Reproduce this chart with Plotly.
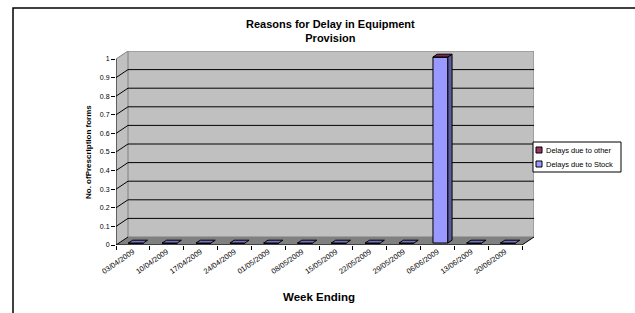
import plotly.graph_objects as go

# ---------------- data ----------------
weeks = ["03/04/2009", "10/04/2009", "17/04/2009", "24/04/2009", "01/05/2009",
         "08/05/2009", "15/05/2009", "22/05/2009", "29/05/2009", "06/06/2009",
         "13/06/2009", "20/06/2009"]
series_names = ["Delays due to other", "Delays due to Stock"]
delays_other = [0, 0, 0, 0, 0, 0, 0, 0, 0, 0, 0, 0]
delays_stock = [0, 0, 0, 0, 0, 0, 0, 0, 0, 1, 0, 0]
y_ticks = [0, 0.1, 0.2, 0.3, 0.4, 0.5, 0.6, 0.7, 0.8, 0.9, 1]
y_tick_labels = ["0", "0.1", "0.2", "0.3", "0.4", "0.5", "0.6", "0.7", "0.8", "0.9", "1"]

# ---------------- layout constants (pixels) ----------------
W, H = 635, 313
L, R = 116, 522      # front plane left/right
B, T = 245, 59       # front plane y of value 0 / value Y_MAX
Y_MAX = 1.0
DXP, DYP = 12, 8     # 3D depth offset
F0, F1 = 0.25, 0.6   # bar depth position (fraction of depth)
BW = 0.44            # bar width in category units
FONT = "Liberation Sans, Arial, sans-serif"

C_WALL = "#C0C0C0"
C_FLOOR = "#808080"
C_STOCK = "#9999FF"
C_STOCK_SIDE = "#5C5C99"
C_STOCK_TOP = "#7474C4"
C_OTHER = "#993366"
C_OTHER_TOP = "#7A2952"

n = len(weeks)
px_cat = (R - L) / n
px_val = (B - T) / Y_MAX
DX = DXP / px_cat
DY = DYP / px_val
x_lo, x_hi = -0.5, n - 0.5
plot_right = R + DXP
plot_top = T - DYP


def pxx(px):
    return (px - L) / (plot_right - L)


def pxy(py):
    return (B - py) / (B - plot_top)


def poly(pts):
    return "M " + " L ".join(f"{x},{y}" for x, y in pts) + " Z"


shapes = []
# left wall
shapes.append(dict(type="path", xref="x", yref="y", layer="below",
                   path=poly([(x_lo, 0), (x_lo, Y_MAX), (x_lo + DX, Y_MAX + DY), (x_lo + DX, DY)]),
                   fillcolor=C_WALL, line=dict(width=0)))
# back wall
shapes.append(dict(type="rect", xref="x", yref="y", layer="below",
                   x0=x_lo + DX, x1=x_hi + DX, y0=DY, y1=Y_MAX + DY,
                   fillcolor=C_WALL, line=dict(color="#808080", width=1)))
# floor
shapes.append(dict(type="path", xref="x", yref="y", layer="below",
                   path=poly([(x_lo, 0), (x_hi, 0), (x_hi + DX, DY), (x_lo + DX, DY)]),
                   fillcolor=C_FLOOR, line=dict(width=0)))
# gridlines on back wall and diagonals on the left wall
for v in y_ticks:
    if 0 < v < Y_MAX:
        shapes.append(dict(type="line", xref="x", yref="y", layer="below",
                           x0=x_lo + DX, x1=x_hi + DX, y0=v + DY, y1=v + DY,
                           line=dict(color="black", width=1)))
    shapes.append(dict(type="line", xref="x", yref="y", layer="below",
                       x0=x_lo, x1=x_lo + DX, y0=v, y1=v + DY,
                       line=dict(color="black" if v < Y_MAX else "#808080", width=1)))
# front axis lines
shapes.append(dict(type="line", xref="x", yref="y", layer="below",
                   x0=x_lo, x1=x_lo, y0=0, y1=Y_MAX, line=dict(color="black", width=1)))
shapes.append(dict(type="line", xref="x", yref="y", layer="below",
                   x0=x_lo, x1=x_hi, y0=0, y1=0, line=dict(color="black", width=1)))
shapes.append(dict(type="line", xref="x", yref="y", layer="below",
                   x0=x_hi, x1=x_hi + DX, y0=0, y1=DY, line=dict(color="black", width=1)))

# 3D faces of the bars
dd_x = (F1 - F0) * DX
dd_y = (F1 - F0) * DY
base0 = F0 * DY
for i in range(n):
    total = delays_stock[i] + delays_other[i]
    xl = i + F0 * DX - BW / 2
    xr = i + F0 * DX + BW / 2
    if total > 0:
        shapes.append(dict(type="path", xref="x", yref="y", layer="above",
                           path=poly([(xr, base0), (xr, total + base0),
                                      (xr + dd_x, total + base0 + dd_y), (xr + dd_x, base0 + dd_y)]),
                           fillcolor=C_STOCK_SIDE, line=dict(color="black", width=1)))
    top_col = C_OTHER_TOP if total > 0 else C_STOCK_TOP
    yb = total + base0
    shapes.append(dict(type="path", xref="x", yref="y", layer="above",
                       path=poly([(xl, yb), (xr, yb), (xr + dd_x, yb + dd_y), (xl + dd_x, yb + dd_y)]),
                       fillcolor=top_col, line=dict(color="black", width=1)))

# chart area frame
shapes.append(dict(type="rect", xref="paper", yref="paper", layer="below",
                   x0=pxx(13), x1=pxx(W + 20), y0=pxy(H + 20), y1=pxy(8),
                   fillcolor="rgba(0,0,0,0)", line=dict(color="black", width=1.5)))

# manual legend
shapes.append(dict(type="rect", xref="paper", yref="paper",
                   x0=pxx(533), x1=pxx(621), y0=pxy(172), y1=pxy(142),
                   fillcolor="white", line=dict(color="black", width=1)))
legend_colors = [C_OTHER, C_STOCK]
legend_y = [150, 164]
annotations = []
for name, col, ly in zip(series_names, legend_colors, legend_y):
    shapes.append(dict(type="rect", xref="paper", yref="paper",
                       x0=pxx(536), x1=pxx(542), y0=pxy(ly + 3), y1=pxy(ly - 3),
                       fillcolor=col, line=dict(color="black", width=1)))
    annotations.append(dict(xref="paper", yref="paper", x=pxx(544), y=pxy(ly),
                            xanchor="left", yanchor="middle", showarrow=False,
                            text=name, font=dict(family=FONT, size=7.5, color="black")))

# titles
annotations.append(dict(xref="paper", yref="paper", x=pxx(330), y=pxy(31),
                        xanchor="center", yanchor="middle", showarrow=False,
                        text="<b>Reasons for Delay in Equipment<br>Provision</b>",
                        font=dict(family=FONT, size=11, color="black")))
annotations.append(dict(xref="paper", yref="paper", x=pxx((L + R) / 2), y=pxy(297),
                        xanchor="center", yanchor="middle", showarrow=False,
                        text="<b>Week Ending</b>",
                        font=dict(family=FONT, size=11.5, color="black")))
annotations.append(dict(xref="paper", yref="paper", x=pxx(88), y=pxy((B + T) / 2),
                        xanchor="center", yanchor="middle", showarrow=False, textangle=-90,
                        text="<b>No. ofPrescription forms</b>",
                        font=dict(family=FONT, size=8, color="black")))

fig = go.Figure()
fig.add_trace(go.Bar(
    name=series_names[1],
    x=[i + F0 * DX for i in range(n)], y=delays_stock, base=[base0] * n,
    width=BW, marker=dict(color=C_STOCK, line=dict(color="black", width=1)),
    showlegend=False, hoverinfo="skip"))
fig.add_trace(go.Bar(
    name=series_names[0],
    x=[i + F0 * DX for i in range(n)], y=delays_other,
    base=[s + base0 for s in delays_stock],
    width=BW, marker=dict(color=C_OTHER, line=dict(color="black", width=1)),
    showlegend=False, hoverinfo="skip"))

fig.update_layout(
    width=W, height=H,
    margin=dict(l=L, r=W - plot_right, t=plot_top, b=H - B, pad=0),
    paper_bgcolor="white", plot_bgcolor="rgba(0,0,0,0)",
    barmode="overlay", showlegend=False,
    font=dict(family=FONT, size=7, color="black"),
    shapes=shapes, annotations=annotations,
    xaxis=dict(type="linear", range=[x_lo, x_hi + DX], showgrid=False, zeroline=False,
               showline=False, tickmode="array", tickvals=list(range(n)), ticktext=weeks,
               ticks="", tickangle=-35, tickfont=dict(family=FONT, size=7.5, color="black"),
               minor=dict(tickmode="array", tickvals=[i - 0.5 for i in range(n + 1)],
                          ticks="outside", ticklen=4, tickcolor="black", tickwidth=1, showgrid=False),
               fixedrange=True),
    yaxis=dict(range=[0, Y_MAX + DY], showgrid=False, zeroline=False, showline=False,
               tickmode="array", tickvals=y_ticks, ticktext=y_tick_labels,
               ticks="outside", ticklen=4, tickcolor="black", tickwidth=1,
               tickfont=dict(family=FONT, size=7, color="black"), fixedrange=True),
)

fig.write_html("out.html", config={"displayModeBar": False},
               post_script="document.body.style.margin='0px';document.body.style.overflow='hidden';")
